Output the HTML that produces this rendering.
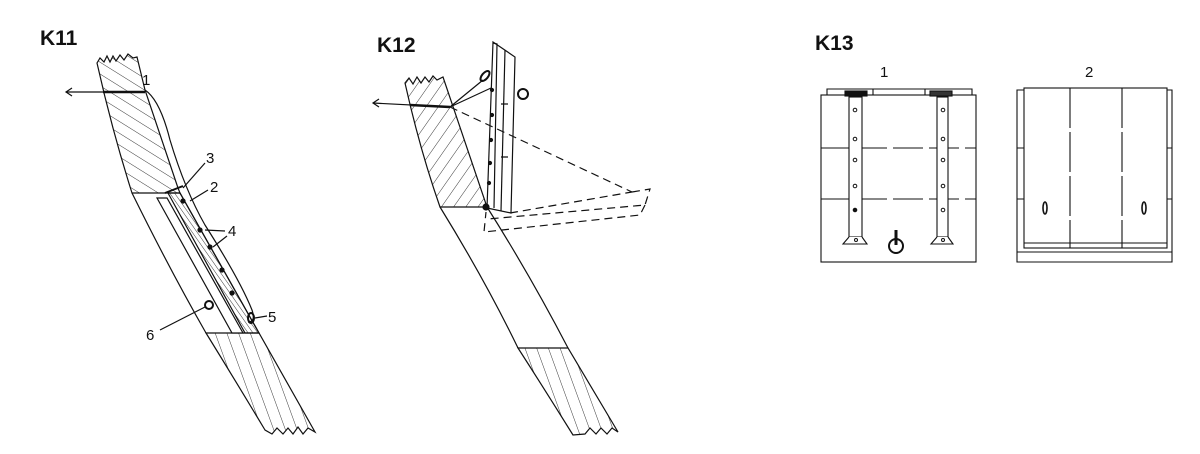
<!DOCTYPE html>
<html><head><meta charset="utf-8"><style>
html,body{margin:0;padding:0;background:#fff;width:1200px;height:454px;overflow:hidden}
svg{display:block}
text{font-family:"Liberation Sans",sans-serif;fill:#111}
.b{font-weight:bold;font-size:21px}
.n{font-size:15px}
</style></head><body>
<svg width="1200" height="454" viewBox="0 0 1200 454">
<defs>
<pattern id="h" patternUnits="userSpaceOnUse" width="10" height="10" patternTransform="rotate(35)">
<line x1="0" y1="0" x2="0" y2="10" stroke="#222" stroke-width="0.9"/></pattern>
<pattern id="hk" patternUnits="userSpaceOnUse" width="10" height="10" patternTransform="rotate(-58)">
<line x1="0" y1="0" x2="0" y2="10" stroke="#222" stroke-width="0.9"/></pattern>
<pattern id="h2" patternUnits="userSpaceOnUse" width="11" height="11" patternTransform="rotate(-20)">
<line x1="0" y1="0" x2="0" y2="11" stroke="#222" stroke-width="0.9"/></pattern>
<pattern id="h3" patternUnits="userSpaceOnUse" width="4" height="4" patternTransform="rotate(-35)">
<line x1="0" y1="0" x2="0" y2="4" stroke="#222" stroke-width="0.9"/></pattern>
</defs>
<g fill="none" stroke="#111" stroke-width="1.2">
<!-- K11 -->
<text class="b" x="40" y="45" stroke="none">K11</text>
<path d="M97,63 L100,58 L104,62 L107,56 L110,62 L113,56 L116,61 L120,55 L124,60 L128,54 L133,58 L137,57 L145,90 L178,188 L180,193 L132,193 Q112,130 97,63Z" fill="url(#hk)"/>
<path d="M206,333 L259,333 L315,432 L308,428 L303,434 L298,427 L293,434 L288,428 L283,434 L277,428 L272,434 L265,430 Q235,380 206,333Z" fill="url(#h2)"/>
<path d="M132,193 Q170,270 206,333"/>
<path d="M180,193 L259,333"/>
<path d="M157,198 L167,198 L243,333 L232,333Z" fill="#fff"/>
<path d="M168,193 L180,193 L259,333 L245,333Z" fill="url(#h3)"/>
<path d="M145,90 Q160,100 170,140 Q185,190 205,225 Q240,280 252,310 Q256,322 248,322"/>
<g fill="#111"><circle cx="183" cy="201" r="2"/><circle cx="200" cy="230" r="2"/><circle cx="210" cy="247" r="2"/><circle cx="222" cy="270" r="2"/><circle cx="232" cy="293" r="2"/></g>
<circle cx="209" cy="305" r="4" stroke-width="2"/>
<ellipse cx="251" cy="318" rx="3" ry="5" stroke-width="2"/>
<path d="M66,92 L145,92"/><path d="M103,92 L145,92" stroke-width="2.5"/><path d="M72,88 L66,92 L72,96"/>
<path d="M165,193 L183,186" stroke-width="2"/>
<path d="M183,188 L205,163"/><path d="M190,201 L208,190"/><path d="M205,230 L225,231"/><path d="M213,247 L227,236"/><path d="M255,318 L267,316"/><path d="M160,330 L205,307"/>
</g>
<g stroke="none">
<text class="n" x="142" y="85">1</text><text class="n" x="206" y="163">3</text><text class="n" x="210" y="192">2</text><text class="n" x="228" y="236">4</text><text class="n" x="268" y="322">5</text><text class="n" x="146" y="340">6</text>
</g>
<!-- K12 -->
<g fill="none" stroke="#111" stroke-width="1.2">
<text class="b" x="377" y="52" stroke="none">K12</text>
<path d="M405,83 L409,78 L413,84 L417,77 L421,83 L425,77 L429,82 L433,76 L437,80 L443,77 L487,207 L440,207 Q420,150 405,83Z" fill="url(#h)"/>
<path d="M518,348 L568,348 L618,432 L612,428 L607,434 L601,428 L596,434 L590,428 L585,434 L573,435 Q545,390 518,348Z" fill="url(#h2)"/>
<path d="M440,207 Q485,280 518,348"/>
<path d="M487,207 Q530,275 568,348"/>
<path d="M493,42 L515,57 L511,213 L487,208Z" fill="#fff"/>
<path d="M505,50 L501,211"/><path d="M493,43 L497,44 L494,208"/>
<path d="M501,104 L508,104 M501,157 L508,157"/>
<g fill="#111"><circle cx="492" cy="90" r="1.5"/><circle cx="492" cy="115" r="1.5"/><circle cx="491" cy="140" r="1.5"/><circle cx="490" cy="163" r="1.5"/><circle cx="489" cy="183" r="1.5"/><circle cx="486" cy="207" r="3"/></g>
<circle cx="523" cy="94" r="5" stroke-width="2"/>
<ellipse cx="485" cy="76" rx="3" ry="6" transform="rotate(40 485 76)" stroke-width="2"/>
<path d="M450,107 L483,80 M450,107 L491,88"/>
<path d="M373,103 L450,107"/><path d="M410,105 L450,107" stroke-width="2.5"/><path d="M379,99 L373,103 L379,107"/>
<g stroke-dasharray="8,5">
<path d="M450,107 L632,192"/>
<path d="M632,192 L650,189 L645,205 L488,219"/>
<path d="M645,205 L640,215 L484,232 L486,212"/>
<path d="M510,213 L632,192"/>
</g>
</g>
<!-- K13 -->
<g fill="none" stroke="#111" stroke-width="1.1">
<text class="b" x="815" y="50" stroke="none">K13</text>
<text class="n" x="880" y="77" stroke="none">1</text><text class="n" x="1085" y="77" stroke="none">2</text>
<rect x="821" y="95" width="155" height="167"/>
<path d="M827,95 L827,89 L972,89 L972,95 M873,89 L873,95 M925,89 L925,95"/>
<path d="M821,148 L976,148 M821,199 L976,199" stroke-dasharray="30,6"/>
<rect x="849" y="97" width="13" height="140" fill="#fff"/>
<rect x="937" y="97" width="11" height="140" fill="#fff"/>
<path d="M849,237 L843,244 L867,244 L862,237 M937,237 L931,244 L953,244 L948,237" fill="#fff"/>
<rect x="845" y="91" width="22" height="5" fill="#111"/><rect x="930" y="91" width="22" height="5" fill="#333"/>
<g stroke-width="1"><circle cx="855" cy="110" r="1.8"/><circle cx="855" cy="139" r="1.8"/><circle cx="855" cy="160" r="1.8"/><circle cx="855" cy="186" r="1.8"/><circle cx="855" cy="210" r="1.8" fill="#111"/><circle cx="856" cy="240" r="1.5"/>
<circle cx="943" cy="110" r="1.8"/><circle cx="943" cy="139" r="1.8"/><circle cx="943" cy="160" r="1.8"/><circle cx="943" cy="186" r="1.8"/><circle cx="943" cy="210" r="1.8"/><circle cx="943" cy="240" r="1.5"/></g>
<circle cx="896" cy="246" r="7" stroke-width="2"/><path d="M896,230 L896,245" stroke-width="3"/>
<rect x="1024" y="88" width="143" height="160"/>
<path d="M1024,90 L1017,90 L1017,262 L1172,262 L1172,90 L1167,90 M1017,148 L1024,148 M1017,199 L1024,199 M1167,148 L1172,148 M1167,199 L1172,199"/>
<path d="M1017,252 L1172,252 M1024,243 L1167,243"/>
<path d="M1070,88 L1070,248 M1122,88 L1122,248" stroke-dasharray="40,4"/>
<ellipse cx="1045" cy="208" rx="2" ry="6" stroke-width="1.6"/><ellipse cx="1144" cy="208" rx="2" ry="6" stroke-width="1.6"/>
</g>
</svg>
</body></html>
